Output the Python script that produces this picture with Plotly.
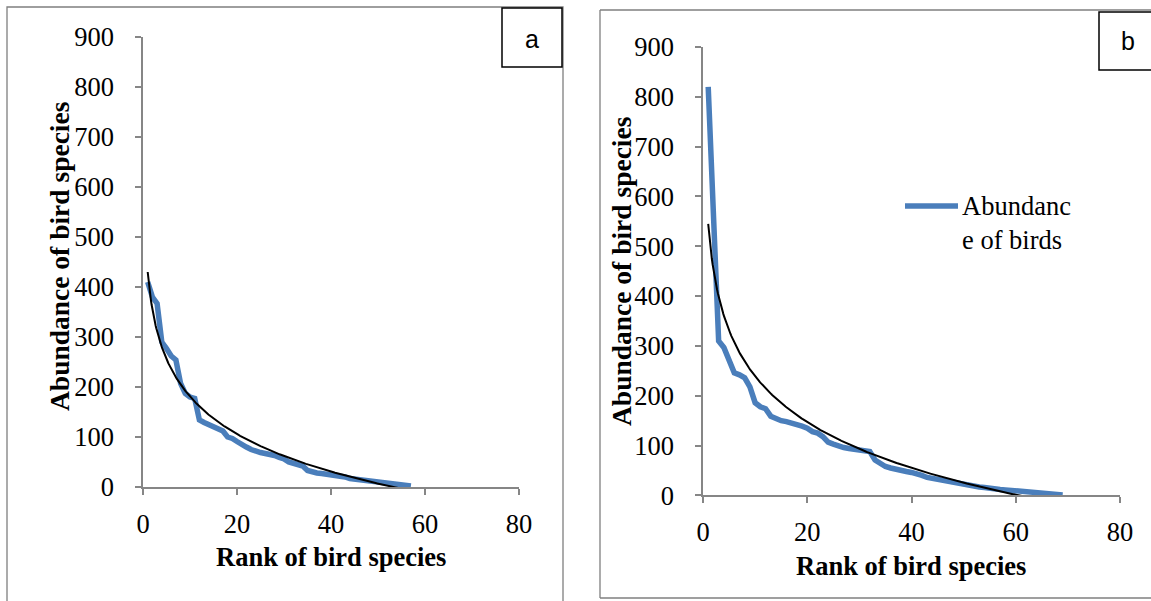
import numpy as np
import plotly.graph_objects as go

# ---------------- data ----------------
rank_a = list(range(1, 58))
abund_a = [410, 380, 367, 290, 277, 262, 254, 207, 187, 180,
           177, 134, 129, 125, 122, 117, 112, 100, 97, 91,
           84, 80, 75, 71, 69, 67, 66, 63, 59, 56,
           50, 47, 44, 42, 33, 30, 28, 27, 26, 25,
           24, 22, 20, 17, 16, 14, 12, 11, 10, 9,
           8, 7, 6, 5, 4, 3, 2]

rank_b = list(range(1, 70))
abund_b = [820, 560, 310, 297, 270, 246, 242, 236, 218, 186,
           178, 174, 159, 154, 150, 148, 146, 142, 139, 135,
           128, 125, 118, 107, 103, 98, 96, 94, 93, 91,
           90, 88, 71, 64, 58, 55, 52, 51, 48, 46,
           44, 40, 36, 34, 32, 30, 28, 26, 24, 21,
           20, 18, 17, 16, 14, 13, 12, 11, 10, 9,
           8.5, 8, 7, 6, 5, 4, 3, 2, 1]

# logarithmic trend lines (y = intercept + slope * ln(rank))
trend_a_intercept, trend_a_slope = 430.0, -108.2
trend_b_intercept, trend_b_slope = 545.0, -132.8

x_ticks = [0, 20, 40, 60, 80]
y_ticks = [0, 100, 200, 300, 400, 500, 600, 700, 800, 900]
legend_text = "Abundanc<br>e of birds"
x_title = "Rank of bird species"
y_title = "Abundance of bird species"

BLUE = "#4A7EBB"
AXIS = "#868686"
SERIF = "Liberation Serif"
W, H = 1151, 601


def log_trend(r, icpt, slope):
    r = np.asarray(r, float)
    xs = np.linspace(r.min(), r.max(), 400)
    return xs, icpt + slope * np.log(xs)


fig = go.Figure()

ta_x, ta_y = log_trend(rank_a, trend_a_intercept, trend_a_slope)
tb_x, tb_y = log_trend(rank_b, trend_b_intercept, trend_b_slope)

fig.add_trace(go.Scatter(x=rank_a, y=abund_a, mode="lines", xaxis="x", yaxis="y",
                         line=dict(color=BLUE, width=5.5), showlegend=False))
fig.add_trace(go.Scatter(x=ta_x, y=ta_y, mode="lines", xaxis="x", yaxis="y",
                         line=dict(color="black", width=2), showlegend=False))
fig.add_trace(go.Scatter(x=rank_b, y=abund_b, mode="lines", xaxis="x2", yaxis="y2",
                         line=dict(color=BLUE, width=5.5), showlegend=False))
fig.add_trace(go.Scatter(x=tb_x, y=tb_y, mode="lines", xaxis="x2", yaxis="y2",
                         line=dict(color="black", width=2), showlegend=False))


def px_x(p):
    return p / W


def px_y(p):
    return 1 - p / H


axis_common = dict(showgrid=False, zeroline=False, showline=True, linecolor=AXIS,
                   linewidth=1.5, ticks="outside", tickcolor=AXIS, ticklen=6,
                   tickwidth=1.5, automargin=False,
                   tickfont=dict(family=SERIF, size=26.5, color="black"))

fig.update_layout(
    width=W, height=H,
    margin=dict(l=0, r=0, t=0, b=0, pad=0, autoexpand=False),
    paper_bgcolor="white", plot_bgcolor="white",
    showlegend=False,
    xaxis=dict(domain=[px_x(143), px_x(519)], range=[0, 80], tickvals=x_ticks,
               anchor="y", ticklabelstandoff=6, **axis_common),
    yaxis=dict(domain=[px_y(487), px_y(37)], range=[0, 900], tickvals=y_ticks,
               anchor="x", ticklabelstandoff=16, **axis_common),
    xaxis2=dict(domain=[px_x(703), px_x(1120)], range=[0, 80], tickvals=x_ticks,
                anchor="y2", ticklabelstandoff=6, **axis_common),
    yaxis2=dict(domain=[px_y(495.4), px_y(47)], range=[0, 900], tickvals=y_ticks,
                anchor="x2", ticklabelstandoff=16, **axis_common),
)

shapes = [
    # panel frames
    dict(type="rect", xref="paper", yref="paper", x0=px_x(7), x1=px_x(563),
         y0=-0.02, y1=px_y(7), line=dict(color="#7F7F7F", width=1.3)),
    dict(type="line", xref="paper", yref="paper", x0=px_x(600), x1=1,
         y0=px_y(598), y1=px_y(598), line=dict(color="#7F7F7F", width=1.3)),
    dict(type="line", xref="paper", yref="paper", x0=px_x(600), x1=1,
         y0=px_y(10), y1=px_y(10), line=dict(color="#7F7F7F", width=1.3)),
    dict(type="line", xref="paper", yref="paper", x0=px_x(600), x1=px_x(600),
         y0=px_y(598), y1=px_y(10), line=dict(color="#7F7F7F", width=1.3)),
    # label boxes
    dict(type="rect", xref="paper", yref="paper", x0=px_x(502), x1=px_x(562),
         y0=px_y(67), y1=px_y(8), line=dict(color="black", width=1.5),
         fillcolor="white"),
    dict(type="path", xref="paper", yref="paper",
         path="M %f,%f L %f,%f L %f,%f L %f,%f" % (1, px_y(12), px_x(1099), px_y(12),
                                                  px_x(1099), px_y(70), 1, px_y(70)),
         line=dict(color="black", width=1.5)),
    # legend line
    dict(type="line", xref="paper", yref="paper", x0=px_x(905), x1=px_x(958),
         y0=px_y(206), y1=px_y(206), line=dict(color=BLUE, width=5.5)),
]

annotations = [
    dict(text="a", x=px_x(532), y=px_y(39), xref="paper", yref="paper",
         xanchor="center", yanchor="middle",
         showarrow=False, font=dict(family="Liberation Sans", size=25, color="black")),
    dict(text="b", x=px_x(1128), y=px_y(41), xref="paper", yref="paper",
         xanchor="center", yanchor="middle",
         showarrow=False, font=dict(family="Liberation Sans", size=25, color="black")),
    dict(text=legend_text, x=px_x(960), y=px_y(223), xref="paper", yref="paper",
         xanchor="left", yanchor="middle", align="left", showarrow=False,
         font=dict(family=SERIF, size=26.5, color="black")),
    dict(text="<b>%s</b>" % x_title, x=px_x(331), y=px_y(557), xref="paper", yref="paper",
         xanchor="center", yanchor="middle",
         showarrow=False, font=dict(family=SERIF, size=26.5, color="black")),
    dict(text="<b>%s</b>" % x_title, x=px_x(911), y=px_y(566), xref="paper", yref="paper",
         xanchor="center", yanchor="middle",
         showarrow=False, font=dict(family=SERIF, size=26.5, color="black")),
    dict(text="<b>%s</b>" % y_title, x=px_x(59), y=px_y(256), xref="paper", yref="paper",
         xanchor="center", yanchor="middle",
         showarrow=False, textangle=-90, font=dict(family=SERIF, size=27.5, color="black")),
    dict(text="<b>%s</b>" % y_title, x=px_x(621), y=px_y(271), xref="paper", yref="paper",
         xanchor="center", yanchor="middle",
         showarrow=False, textangle=-90, font=dict(family=SERIF, size=27.5, color="black")),
]

fig.update_layout(shapes=shapes, annotations=annotations)

fig.write_html("out.html")
